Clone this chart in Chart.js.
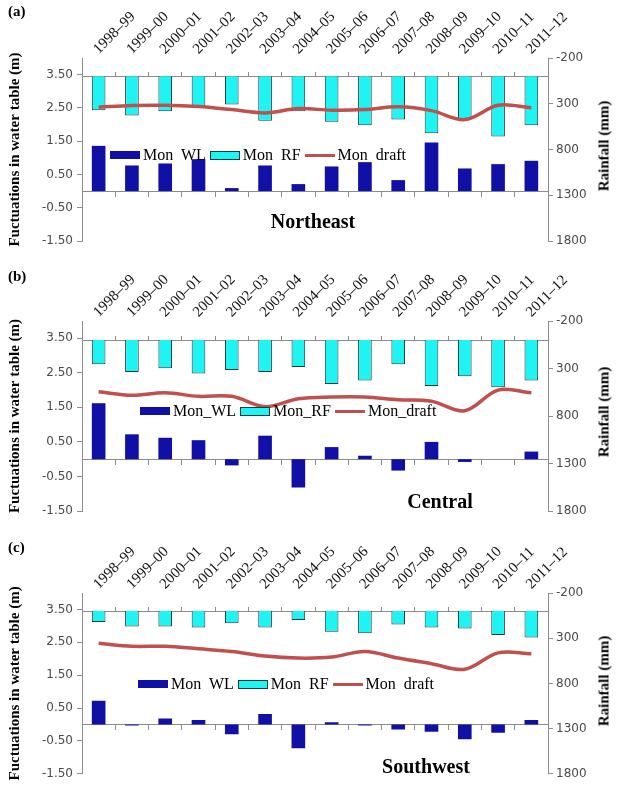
<!DOCTYPE html>
<html>
<head>
<meta charset="utf-8">
<script src="https://cdn.jsdelivr.net/npm/chart.js@4.4.1/dist/chart.umd.min.js"></script>
<style>
  body { margin: 0; width: 632px; height: 785px; background: #fff; position: relative; overflow: hidden; }
  .panel { position: absolute; left: 0; width: 632px; }
  .tag { position: absolute; left: 8px; font: bold 15px "Liberation Serif", serif; color: #000; }
  .region { position: absolute; font: bold 20px "Liberation Serif", serif; color: #000; transform: translate(-50%, -50%); white-space: nowrap; }
  .ytitle2 { position: absolute; font: bold 15px "Liberation Serif", serif; color: #000; white-space: nowrap;
             transform: translate(-50%, -50%) rotate(-90deg); }
  .legend { position: absolute; font: 16px "Liberation Serif", serif; color: #000; white-space: pre; display: flex; align-items: center; }
  .legend span.sw { display: inline-block; margin-right: 3px; }
  .legend span.txt { margin-right: 4px; }
</style>
</head>
<body>
<script>
// categories and tick labels
const years = ['1998–99', '1999–00', '2000–01', '2001–02', '2002–03', '2003–04', '2004–05',
               '2005–06', '2006–07', '2007–08', '2008–09', '2009–10', '2010–11', '2011–12'];
const wlTicks = [-1.5, -0.5, 0.5, 1.5, 2.5, 3.5];
const rfTicks = [-200, 300, 800, 1300, 1800];

// (a) Northeast
const neWL = [1.36, 0.77, 0.83, 0.96, 0.09, 0.77, 0.21, 0.74, 0.87, 0.33, 1.46, 0.68, 0.81, 0.91];
const neRF = [371, 429, 382, 327, 309, 487, 382, 498, 535, 473, 622, 473, 658, 535];
const neDraft = [338, 320, 316, 331, 364, 400, 353, 371, 364, 334, 375, 473, 316, 345];

// (b) Central
const ceWL = [1.62, 0.72, 0.62, 0.55, -0.18, 0.68, -0.82, 0.35, 0.10, -0.33, 0.50, -0.08, 0, 0.22];
const ceRF = [255, 338, 298, 353, 316, 338, 284, 462, 425, 255, 484, 382, 498, 425];
const ceDraft = [545, 582, 556, 593, 593, 702, 618, 600, 600, 629, 644, 745, 527, 556];

// (c) Southwest
const swWL = [0.72, -0.03, 0.18, 0.14, -0.30, 0.32, -0.72, 0.07, -0.03, -0.15, -0.22, -0.45, -0.25, 0.14];
const swRF = [120, 171, 171, 182, 135, 182, 98, 229, 244, 149, 182, 193, 265, 291];
const swDraft = [356, 389, 389, 418, 447, 498, 520, 509, 447, 520, 582, 644, 462, 473];

const panelData = [
  { tag: '(a)', region: 'Northeast', wl: neWL, rf: neRF, draft: neDraft, names: ['Mon  WL', 'Mon  RF', 'Mon  draft'] },
  { tag: '(b)', region: 'Central', wl: ceWL, rf: ceRF, draft: ceDraft, names: ['Mon_WL', 'Mon_RF', 'Mon_draft'] },
  { tag: '(c)', region: 'Southwest', wl: swWL, rf: swRF, draft: swDraft, names: ['Mon  WL', 'Mon  RF', 'Mon  draft'] }
];

// page layout for each panel (pixels)
const panelLayout = [
  { top: 0,   h: 262, areaTop: 58, areaBottom: 241, tagY: 3,  regionX: 313, regionY: 221, legendX: 110, legendY: 146 },
  { top: 262, h: 262, areaTop: 59, areaBottom: 249, tagY: 6,  regionX: 440, regionY: 239, legendX: 140, legendY: 140 },
  { top: 524, h: 261, areaTop: 69, areaBottom: 252, tagY: 15, regionX: 426, regionY: 242, legendX: 138, legendY: 151 }
];

const WL_COLOR = '#1010a6';
const RF_COLOR = '#1ff4f4';
const DRAFT_COLOR = '#c0504d';
const AXIS_GREY = '#8c8c8c';

panelData.forEach((p, i) => {
  const g = panelLayout[i];
  const div = document.createElement('div');
  div.className = 'panel';
  div.style.top = g.top + 'px';
  div.style.height = g.h + 'px';
  document.body.appendChild(div);

  const canvas = document.createElement('canvas');
  canvas.width = 632;
  canvas.height = g.h;
  canvas.style.width = '632px';
  canvas.style.height = g.h + 'px';
  div.appendChild(canvas);

  const tag = document.createElement('div');
  tag.className = 'tag';
  tag.style.top = g.tagY + 'px';
  tag.textContent = p.tag;
  div.appendChild(tag);

  const region = document.createElement('div');
  region.className = 'region';
  region.style.left = g.regionX + 'px';
  region.style.top = g.regionY + 'px';
  region.textContent = p.region;
  div.appendChild(region);

  const t2 = document.createElement('div');
  t2.className = 'ytitle2';
  t2.style.left = '604px';
  t2.style.top = ((g.areaTop + g.areaBottom) / 2 - 4) + 'px';
  t2.textContent = 'Rainfall (mm)';
  div.appendChild(t2);

  // legend (inside the plot area, like the original)
  const leg = document.createElement('div');
  leg.className = 'legend';
  leg.style.left = g.legendX + 'px';
  leg.style.top = g.legendY + 'px';
  const swatches = [
    'width:30px;height:8px;background:' + WL_COLOR,
    'width:28px;height:7px;background:' + RF_COLOR + ';border:1px solid #1b3a3a',
    'width:30px;height:3px;background:' + DRAFT_COLOR
  ];
  p.names.forEach((n, k) => {
    const sw = document.createElement('span');
    sw.className = 'sw';
    sw.style.cssText = swatches[k];
    const tx = document.createElement('span');
    tx.className = 'txt';
    tx.textContent = n;
    leg.appendChild(sw);
    leg.appendChild(tx);
  });
  div.appendChild(leg);

  new Chart(canvas.getContext('2d'), {
    data: {
      labels: years,
      datasets: [
        {
          type: 'line',
          label: p.names[2],
          data: p.draft,
          yAxisID: 'y2',
          borderColor: DRAFT_COLOR,
          borderWidth: 3.5,
          pointRadius: 0,
          tension: 0.35,
          order: 0
        },
        {
          type: 'bar',
          label: p.names[1],
          data: p.rf,
          yAxisID: 'y2',
          backgroundColor: RF_COLOR,
          borderColor: '#1b3a3a',
          borderWidth: 1,
          grouped: false,
          barPercentage: 0.41,
          categoryPercentage: 1,
          order: 1
        },
        {
          type: 'bar',
          label: p.names[0],
          data: p.wl,
          yAxisID: 'y',
          backgroundColor: WL_COLOR,
          borderWidth: 0,
          grouped: false,
          barPercentage: 0.41,
          categoryPercentage: 1,
          order: 2
        }
      ]
    },
    options: {
      responsive: false,
      animation: false,
      layout: { padding: { top: 0, left: 0, right: 0, bottom: g.h - g.areaBottom } },
      plugins: { legend: { display: false }, tooltip: { enabled: false } },
      scales: {
        x: {
          type: 'category',
          position: 'top',
          offset: true,
          border: { display: false },
          grid: { display: false, drawTicks: false },
          ticks: {
            minRotation: 45,
            maxRotation: 45,
            autoSkip: false,
            padding: 0,
            labelOffset: 10,
            color: '#111',
            font: { family: '"Liberation Serif", serif', size: 15 }
          },
          afterFit: s => { s.height = g.areaTop; s.paddingLeft = 0; s.paddingRight = 0; }
        },
        xZero: {
          type: 'category',
          position: { y: 0 },
          offset: true,
          border: { display: true, color: AXIS_GREY, width: 1 },
          grid: { offset: true, drawOnChartArea: false, drawTicks: true, tickLength: 5, color: AXIS_GREY },
          ticks: { display: false },
          afterFit: s => { s.height = 0; s.paddingLeft = 0; s.paddingRight = 0; }
        },
        xRain: {
          type: 'category',
          position: { y2: 0 },
          offset: true,
          border: { display: true, color: AXIS_GREY, width: 1 },
          grid: { offset: true, drawOnChartArea: false, drawTicks: true, tickLength: -5, color: AXIS_GREY },
          ticks: { display: false },
          afterFit: s => { s.height = 0; s.paddingLeft = 0; s.paddingRight = 0; }
        },
        y: {
          type: 'linear',
          position: 'left',
          min: -1.5,
          max: 4,
          border: { display: true, color: AXIS_GREY },
          grid: { drawOnChartArea: false, drawTicks: true, tickLength: 5, color: AXIS_GREY },
          afterBuildTicks: s => { s.ticks = wlTicks.map(v => ({ value: v })); },
          ticks: {
            padding: 4,
            color: '#4a4a4a',
            font: { family: '"DejaVu Sans", sans-serif', size: 12 },
            callback: v => v.toFixed(2)
          },
          title: {
            display: true,
            text: 'Fuctuations in water table (m)',
            color: '#000',
            padding: { top: 6, bottom: 2 },
            font: { family: '"Liberation Serif", serif', size: 15, weight: 'bold' }
          },
          afterFit: s => { s.width = 82; }
        },
        y2: {
          type: 'linear',
          position: 'right',
          reverse: true,
          min: -200,
          max: 1800,
          border: { display: true, color: AXIS_GREY },
          grid: { drawOnChartArea: false, drawTicks: true, tickLength: 5, color: AXIS_GREY },
          afterBuildTicks: s => { s.ticks = rfTicks.map(v => ({ value: v })); },
          ticks: {
            padding: 3,
            color: '#4a4a4a',
            font: { family: '"DejaVu Sans", sans-serif', size: 12 },
            callback: v => String(v)
          },
          afterFit: s => { s.width = 84; }
        }
      }
    }
  });
});
</script>
</body>
</html>
